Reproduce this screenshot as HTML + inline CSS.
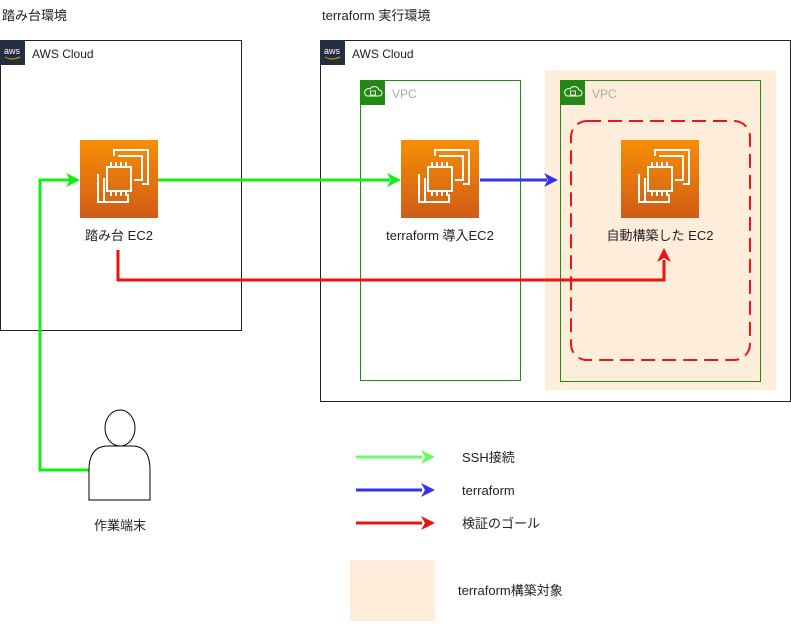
<!DOCTYPE html>
<html><head><meta charset="utf-8"><style>
body{margin:0;background:#fff}
text{font-family:"Liberation Sans","Noto Sans CJK JP",sans-serif;font-size:12px;fill:#222}
</style></head><body>
<svg width="791" height="621" viewBox="0 0 791 621" xmlns="http://www.w3.org/2000/svg">
<defs>
<linearGradient id="og" x1="0" y1="0" x2="0" y2="1"><stop offset="0" stop-color="#f78e04"/><stop offset="1" stop-color="#d05c17"/></linearGradient>
<g id="ec2">
<rect x="0" y="0" width="78" height="78" fill="url(#og)"/>
<path d="M38 16 H62 V40 H54 M24 38 V62 H48 V54" fill="none" stroke="#fff" stroke-width="2"/>
<path d="M18 34 V62 H44" fill="none" stroke="#fff" stroke-width="2" transform="translate(0,0)"/>
<path d="M34 16 V10 H68 V44 H62" fill="none" stroke="#fff" stroke-width="2"/>
<rect x="27" y="27" width="24" height="24" fill="none" stroke="#fff" stroke-width="2"/>
<path d="M31 27v-5M36 27v-5M41 27v-5M46 27v-5M31 51v5M36 51v5M41 51v5M46 51v5" stroke="#fff" stroke-width="2"/>
</g>
<g id="aws"><rect width="25" height="25" fill="#232f3e"/><text x="4" y="14" style="font-size:9px;fill:#fff">aws</text><path d="M5 17 q7 4 15 0" stroke="#f90" fill="none" stroke-width="1"/></g>
<g id="vpc"><rect width="25" height="25" fill="#248814"/><path d="M7 16 h12 a3 3 0 0 0 0-6 a5 5 0 0 0-9-1 a3.5 3.5 0 0 0-3 7z" fill="none" stroke="#fff"/><rect x="10.5" y="11" width="5" height="4" fill="none" stroke="#fff" stroke-width="0.8"/></g>
</defs>
<text x="2" y="20" style="font-size:13px">踏み台環境</text>
<text x="322" y="20" style="font-size:13px">terraform 実行環境</text>
<rect x="0.5" y="40.5" width="241" height="290" fill="none" stroke="#222"/>
<use href="#aws" x="0" y="40"/>
<text x="32" y="58">AWS Cloud</text>
<rect x="320.5" y="40.5" width="470" height="361" fill="none" stroke="#222"/>
<use href="#aws" x="320" y="40"/>
<text x="352" y="58">AWS Cloud</text>
<rect x="360.5" y="80.5" width="160" height="300" fill="none" stroke="#248814"/>
<use href="#vpc" x="360" y="80"/>
<text x="392" y="98" style="fill:#aaa">VPC</text>
<rect x="545" y="70" width="231" height="320" fill="#ffeddb"/>
<rect x="560.5" y="80.5" width="200" height="301" fill="none" stroke="#248814"/>
<use href="#vpc" x="560" y="80"/>
<text x="592" y="98" style="fill:#aaa">VPC</text>
<rect x="571" y="121" width="179" height="239" rx="16" fill="none" stroke="#e81818" stroke-width="2" stroke-dasharray="14 7"/>
<use href="#ec2" x="80" y="140"/>
<use href="#ec2" x="401" y="140"/>
<use href="#ec2" x="621" y="140"/>
<text x="119" y="240" text-anchor="middle" style="font-size:13px">踏み台 EC2</text>
<text x="440" y="240" text-anchor="middle" style="font-size:13px">terraform 導入EC2</text>
<text x="660" y="240" text-anchor="middle" style="font-size:13px">自動構築した EC2</text>
<g fill="none" stroke-width="3">
<path d="M90 470 H40 V180 H70" stroke="#11ee11"/>
<path d="M158 180 H390" stroke="#11ee11"/>
<path d="M480 180 H547" stroke="#3333ee"/>
<path d="M118 250 V280 H664 V260" stroke="#ee1111"/>
<path d="M356 457 H422" stroke="#66ff66"/>
<path d="M356 490 H422" stroke="#3333ee"/>
<path d="M356 523 H422" stroke="#ee1111"/>
</g>
<path d="M80 180 l-14 -7 l4 7 l-4 7z" fill="#11ee11"/>
<path d="M401 180 l-14 -7 l4 7 l-4 7z" fill="#11ee11"/>
<path d="M558 180 l-14 -7 l4 7 l-4 7z" fill="#3333ee"/>
<path d="M664 248 l-7 14 l7 -4 l7 4z" fill="#ee1111"/>
<path d="M435 457 l-14 -7 l4 7 l-4 7z" fill="#66ff66"/>
<path d="M435 490 l-14 -7 l4 7 l-4 7z" fill="#3333ee"/>
<path d="M435 523 l-14 -7 l4 7 l-4 7z" fill="#ee1111"/>
<ellipse cx="120" cy="428" rx="15" ry="18" fill="#fff" stroke="#000"/>
<path d="M89 500 V470 Q89 446 108 446 H132 Q150 446 150 470 V500 Z" fill="#fff" stroke="#000"/>
<text x="120" y="530" text-anchor="middle" style="font-size:13px">作業端末</text>
<text x="462" y="462" style="font-size:13px">SSH接続</text>
<text x="462" y="495" style="font-size:13px">terraform</text>
<text x="462" y="528" style="font-size:13px">検証のゴール</text>
<rect x="350" y="560" width="85" height="61" fill="#ffeddb"/>
<text x="458" y="595" style="font-size:13px">terraform構築対象</text>
</svg>
</body></html>
